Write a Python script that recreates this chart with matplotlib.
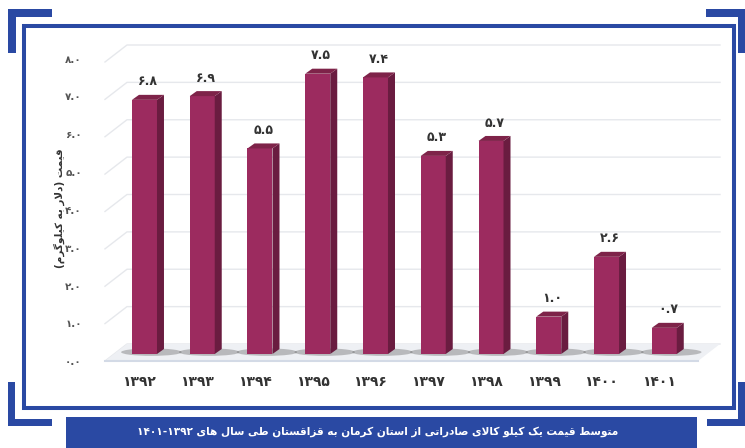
import re
import matplotlib
matplotlib.use("Agg")
import matplotlib.pyplot as plt
from matplotlib.patches import Polygon, Rectangle, Ellipse

years = ["1392", "1393", "1394", "1395", "1396", "1397", "1398", "1399", "1400", "1401"]
prices = [6.8, 6.9, 5.5, 7.5, 7.4, 5.3, 5.7, 1.0, 2.6, 0.7]
y_ticks = [0, 1, 2, 3, 4, 5, 6, 7, 8]
y_label = "قیمت (دلار به کیلوگرم)"
caption = "متوسط قیمت یک کیلو کالای صادراتی از استان کرمان به قزاقستان طی سال های ۱۳۹۲-۱۴۰۱"

BLUE = "#2a49a3"
FRONT = "#9c2b5f"
SIDE = "#6a1c40"
TOP = "#7e2349"
TEXT = "#333333"

# presentation forms: (isolated, final, initial, medial)
FORMS = {
    "\u0627": ("\uFE8D", "\uFE8E"), "\u0622": ("\uFE81", "\uFE82"),
    "\u0628": ("\uFE8F", "\uFE90", "\uFE91", "\uFE92"), "\u067E": ("\uFB56", "\uFB57", "\uFB58", "\uFB59"),
    "\u062A": ("\uFE95", "\uFE96", "\uFE97", "\uFE98"), "\u062B": ("\uFE99", "\uFE9A", "\uFE9B", "\uFE9C"),
    "\u062C": ("\uFE9D", "\uFE9E", "\uFE9F", "\uFEA0"), "\u0686": ("\uFB7A", "\uFB7B", "\uFB7C", "\uFB7D"),
    "\u062D": ("\uFEA1", "\uFEA2", "\uFEA3", "\uFEA4"), "\u062E": ("\uFEA5", "\uFEA6", "\uFEA7", "\uFEA8"),
    "\u062F": ("\uFEA9", "\uFEAA"), "\u0630": ("\uFEAB", "\uFEAC"), "\u0631": ("\uFEAD", "\uFEAE"),
    "\u0632": ("\uFEAF", "\uFEB0"), "\u0698": ("\uFB8A", "\uFB8B"),
    "\u0633": ("\uFEB1", "\uFEB2", "\uFEB3", "\uFEB4"), "\u0634": ("\uFEB5", "\uFEB6", "\uFEB7", "\uFEB8"),
    "\u0635": ("\uFEB9", "\uFEBA", "\uFEBB", "\uFEBC"), "\u0636": ("\uFEBD", "\uFEBE", "\uFEBF", "\uFEC0"),
    "\u0637": ("\uFEC1", "\uFEC2", "\uFEC3", "\uFEC4"), "\u0638": ("\uFEC5", "\uFEC6", "\uFEC7", "\uFEC8"),
    "\u0639": ("\uFEC9", "\uFECA", "\uFECB", "\uFECC"), "\u063A": ("\uFECD", "\uFECE", "\uFECF", "\uFED0"),
    "\u0641": ("\uFED1", "\uFED2", "\uFED3", "\uFED4"), "\u0642": ("\uFED5", "\uFED6", "\uFED7", "\uFED8"),
    "\u06A9": ("\uFB8E", "\uFB8F", "\uFB90", "\uFB91"), "\u0643": ("\uFED9", "\uFEDA", "\uFEDB", "\uFEDC"),
    "\u06AF": ("\uFB92", "\uFB93", "\uFB94", "\uFB95"), "\u0644": ("\uFEDD", "\uFEDE", "\uFEDF", "\uFEE0"),
    "\u0645": ("\uFEE1", "\uFEE2", "\uFEE3", "\uFEE4"), "\u0646": ("\uFEE5", "\uFEE6", "\uFEE7", "\uFEE8"),
    "\u0648": ("\uFEED", "\uFEEE"), "\u0647": ("\uFEE9", "\uFEEA", "\uFEEB", "\uFEEC"),
    "\u06CC": ("\uFBFC", "\uFBFD", "\uFBFE", "\uFBFF"), "\u064A": ("\uFEF1", "\uFEF2", "\uFEF3", "\uFEF4"),
}


def dual(c):
    return c in FORMS and len(FORMS[c]) == 4


def shape(text):
    out = []
    skip = False
    for i, c in enumerate(text):
        if skip:
            skip = False
            continue
        if c not in FORMS:
            out.append(c)
            continue
        prev = text[i - 1] if i > 0 else ""
        nxt = text[i + 1] if i + 1 < len(text) else ""
        left = dual(prev)
        if c == "\u0644" and nxt == "\u0627":
            out.append("\uFEFC" if left else "\uFEFB")
            skip = True
            continue
        right = dual(c) and nxt in FORMS
        f = FORMS[c]
        if left and right:
            out.append(f[3])
        elif left:
            out.append(f[1])
        elif right:
            out.append(f[2])
        else:
            out.append(f[0])
    return "".join(out)


def rtl(text):
    # shaped glyphs in visual order, digit runs kept left-to-right
    tokens = re.findall(r"[\u06F0-\u06F9.]+|.", shape(text))
    swap = {"(": ")", ")": "("}
    return "".join(swap.get(t, t) for t in reversed(tokens))


def fa(s):
    return s.translate(str.maketrans("0123456789", "۰۱۲۳۴۵۶۷۸۹"))


W, H = 745, 448
fig = plt.figure(figsize=(W / 100, H / 100), dpi=100)


def px_rect(x0, y0, x1, y1, **kw):
    fig.patches.append(Rectangle((x0 / W, 1 - y1 / H), (x1 - x0) / W, (y1 - y0) / H,
                                 transform=fig.transFigure, **kw))


# frame and corner brackets
for r in [(8, 9, 52, 17), (8, 9, 16, 53), (706, 9, 745, 17), (738, 9, 745, 53),
          (8, 382, 15, 426), (8, 419, 52, 426), (707, 419, 745, 426), (738, 382, 745, 426)]:
    px_rect(*r, color=BLUE, lw=0)
px_rect(24, 26, 734, 408, fill=False, ec=BLUE, lw=2.9)
px_rect(66, 417, 697, 449, color=BLUE, lw=0)
fig.text(378 / W, 1 - 432 / H, rtl(caption), color="white", fontsize=7.6, fontweight="bold",
         ha="center", va="center", family=["DejaVu Sans"])

ax = fig.add_axes([110 / W, 94 / H, 610 / W, 299 / H])
ax.set_xlim(-0.597, 9.965)
ax.set_ylim(0, 8)
ax.axis("off")

px_x = 610 / 10.562
px_y = 299 / 8
back_dy = 10 / px_y
wall_dx, wall_dy = 22 / px_x, 17 / px_y
x_back0 = -0.303

# gridlines with the perspective wall
for v in y_ticks:
    yb = v + back_dy
    ax.plot([x_back0 - wall_dx, x_back0, 9.965], [yb - wall_dy, yb, yb],
            color="#e6e8ec", lw=1, zorder=1, clip_on=False)
    ax.text(-1.082, v - 0.22 + 0.012 * v, fa("%.1f" % v), ha="right", va="center",
            fontsize=7.5, fontweight="bold", color="#555555", family=["DejaVu Sans"])

# floor
floor = Polygon([(x_back0 - wall_dx, back_dy - wall_dy), (9.965 - wall_dx, back_dy - wall_dy),
                 (9.965, back_dy), (x_back0, back_dy)],
                closed=True, fc="#eef0f4", ec="none", zorder=1.5, clip_on=False)
ax.add_patch(floor)
ax.plot([x_back0 - wall_dx, 9.965 - wall_dx], [back_dy - wall_dy] * 2,
        color="#d3dae6", lw=1.5, zorder=1.6, clip_on=False)

x = list(range(len(prices)))
bw = 25 / px_x
dx, dy = 7 / px_x, 5 / px_y

for xi, v in zip(x, prices):
    ax.add_patch(Ellipse((xi + 0.12, 0.05), 1.05, 0.2, fc="#555555", alpha=0.35,
                         ec="none", zorder=2, clip_on=False))

ax.bar(x, prices, width=bw, color=FRONT, zorder=3)
for xi, v in zip(x, prices):
    r = xi + bw / 2
    l = xi - bw / 2
    ax.add_patch(Polygon([(r, 0), (r + dx, dy), (r + dx, v + dy), (r, v)],
                         closed=True, fc=SIDE, ec="none", zorder=3, clip_on=False))
    ax.add_patch(Polygon([(l, v), (r, v), (r + dx, v + dy), (l + dx, v + dy)],
                         closed=True, fc=TOP, ec="none", zorder=3, clip_on=False))
    ax.text(xi + dx / 2, v + 0.48, fa("%.1f" % v), ha="center", va="center",
            fontsize=9, fontweight="bold", color=TEXT, family=["DejaVu Sans"])

for xi, yr in zip(x, years):
    ax.text(xi - 0.09, -0.75, fa(yr), ha="center", va="center",
            fontsize=10, fontweight="bold", color=TEXT, family=["DejaVu Sans"])

ax.text(-1.48, 3.9, rtl(y_label), rotation=90, ha="center", va="center",
        fontsize=7.5, fontweight="bold", color=TEXT, family=["DejaVu Sans"])

fig.savefig("out.png", dpi=100)
